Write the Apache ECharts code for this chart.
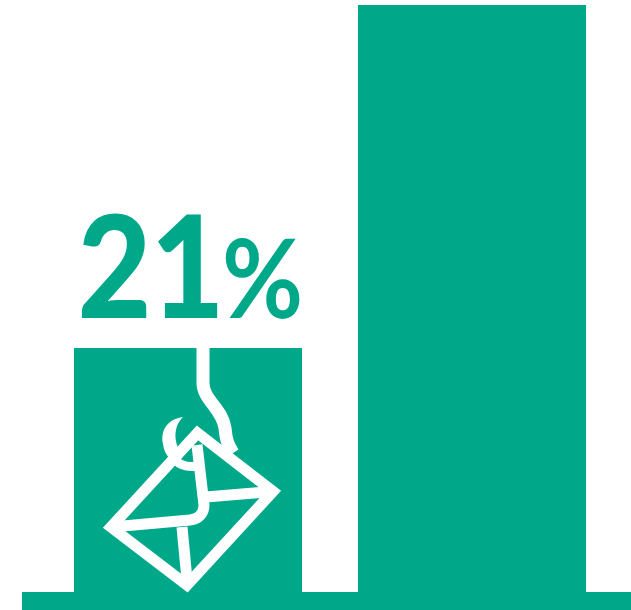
<!DOCTYPE html>
<html><head><meta charset="utf-8">
<style>html,body{margin:0;padding:0;background:#fff}#c{width:631px;height:610px}</style>
<script src="https://cdn.jsdelivr.net/npm/echarts@6/dist/echarts.min.js"></script>
</head><body><div id="c"></div>
<script>
const categories = ['A', 'B'];
const values = [21, 50.5];
const labelNumber = '21';
const labelUnit = '%';
const teal = '#00A88A';

let shapeId = 0;
function shapeOf(d) {
  const name = 'iconPart' + (shapeId++);
  echarts.graphic.registerShape(name, echarts.graphic.extendPath(d, {}));
  return name;
}
const line = (d, w) => ({type: shapeOf(d), style: {fill: 'none', stroke: '#fff', lineWidth: w, lineJoin: 'miter', lineCap: 'butt'}, z: 10});
const chart = echarts.init(document.getElementById('c'), null, {renderer: 'canvas'});
chart.setOption({
  animation: false,
  grid: {left: 46, right: 17, top: 5, bottom: 18},
  xAxis: {type: 'category', data: categories, axisLine: {show: false}, axisTick: {show: false}, axisLabel: {show: false}},
  yAxis: {type: 'value', min: 0, max: 50.5, show: false, splitLine: {show: false}},
  series: [{type: 'bar', data: values, barWidth: 228, itemStyle: {color: teal}}],
  graphic: [
    {type: 'rect', shape: {x: 22, y: 592, width: 609, height: 18}, style: {fill: teal}, z: 5},
    {type: 'text', x: 78, y: 342, scaleX: 0.9, style: {text: labelNumber, font: '700 140px Lato', fill: teal, stroke: teal, lineWidth: 2, verticalAlign: 'bottom'}, z: 5},
    {type: 'text', x: 222, y: 338, scaleX: 0.9, style: {text: labelUnit, font: '700 110px Lato', fill: teal, verticalAlign: 'bottom'}, z: 5},
    line('M197.5 433 L273 491.5 L187 585 L111 527 Z', 11),
    line('M112 527 L190 520 C198 519 204 514 204 505 L197 445', 11),
    line('M206 497 L272 491.5', 11),
    line('M187 580 L182 527', 11),
    line('M203 348 L203 383 C203 400 222 408 225 428 C226 440 228 445 233 453', 13),
    line('M172 455 C176 464 186 468 197 466', 9),
    {type: shapeOf('M183 417 C168 419 160 430 163 444 C164 452 168 458 174 462 L180 452 C175 443 172 428 183 417 Z'), style: {fill: '#fff', stroke: 'none'}, z: 10}
  ]
});
</script></body></html>
